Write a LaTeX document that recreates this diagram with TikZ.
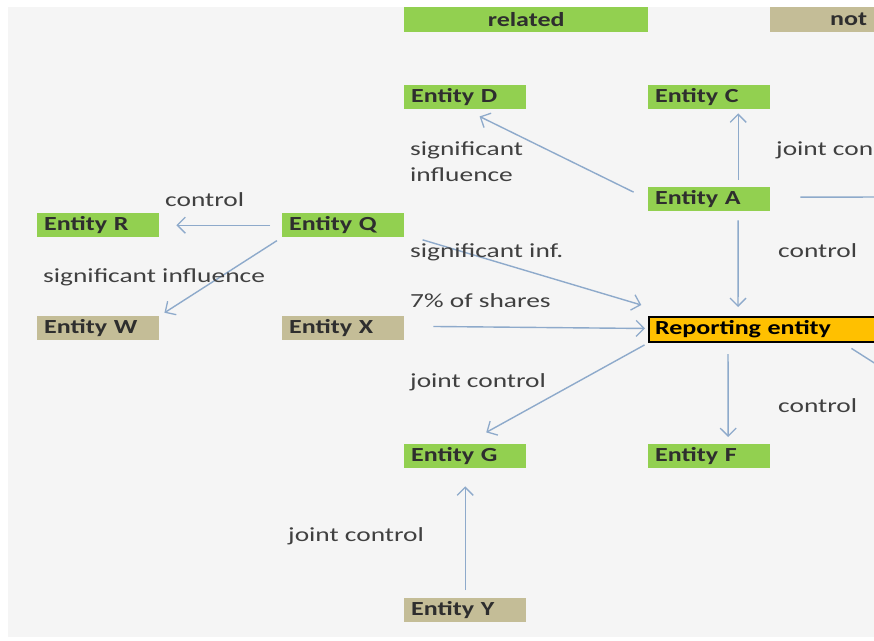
\documentclass[tikz,border=0pt]{standalone}
\usepackage{fontspec}
\setmainfont{Carlito}[FakeStretch=1.3]
\newfontfamily\labelfont{Carlito}[FakeStretch=1.37]
\usetikzlibrary{arrows.meta}

\definecolor{pagebg}{HTML}{F5F5F5}
\definecolor{relgreen}{HTML}{92D050}
\definecolor{unrelated}{HTML}{C4BD97}
\definecolor{repfill}{HTML}{FFC000}
\definecolor{linkcol}{HTML}{8EAACB}
\definecolor{labtext}{HTML}{404040}
\definecolor{boxtext}{HTML}{2E2E2E}

\tikzset{
  entbox/.style={anchor=north west, minimum height=24pt, text width=108pt,
    inner xsep=7pt, inner ysep=0pt, align=left, text=boxtext,
    font=\fontsize{20}{22}\selectfont\bfseries},
  green/.style={entbox, fill=relgreen},
  other/.style={entbox, fill=unrelated},
  lab/.style={anchor=base west, inner sep=0pt, text=labtext,
    font=\labelfont\fontsize{20}{22}\selectfont},
  link/.style={draw=linkcol, line width=1.4pt,
    -{Straight Barb[length=8pt,width=16pt,line width=1.3pt]}},
  plainlink/.style={draw=linkcol, line width=1.4pt}
}

\begin{document}
\begin{tikzpicture}[x=1pt, y=-1pt]
\useasboundingbox (0,0) rectangle (874,640);
\clip (0,0) rectangle (874,640);
\fill[white] (0,0) rectangle (874,640);
\fill[pagebg] (8,7) rectangle (874,637);

% legend strip
\node[green, anchor=north west, minimum width=244pt, text width={}, align=center,
  inner xsep=0pt, minimum height=25pt] (legrel) at (404,7) {related};
\node[other, anchor=north west, minimum width=244pt, text width=230pt,
  inner xsep=0pt, minimum height=25pt] (legnot) at (770,7) {\noindent\hspace*{53pt}not};

% entities
\node[green] (D) at (404,85) {Entity D};
\node[green] (C) at (648,85) {Entity C};
\node[green] (A) at (648,187) {Entity A};
\node[green] (R) at (37,213) {Entity R};
\node[green] (Q) at (282,213) {Entity Q};
\node[other] (W) at (37,316) {Entity W};
\node[other] (X) at (282,316) {Entity X};
\node[green] (G) at (404,444) {Entity G};
\node[green] (F) at (648,444) {Entity F};
\node[other] (Y) at (404,598) {Entity Y};
\node[anchor=north west, fill=repfill, draw=black, line width=2pt,
  minimum height=25pt, text width=240pt, inner xsep=6pt, inner ysep=0pt,
  align=left, text=black, font=\fontsize{20}{22}\selectfont\bfseries]
  (Rep) at (648,316) {Reporting entity};

% off-picture end points
\coordinate (offA) at (890,197);
\coordinate (offRep) at (890,373);

% connectors
\draw[link, shorten <=16pt, shorten >=16pt] (A.west) -- (D.south);
\draw[link, shorten <=7pt, shorten >=4pt] ([xshift=29pt]A.north) -- ([xshift=29pt]C.south);
\draw[plainlink, shorten <=30pt] ([yshift=2pt]A.east) -- (offA);
\draw[link, shorten <=9pt, shorten >=9pt] ([xshift=29pt]A.south) -- ([xshift=90pt]Rep.north west);
\draw[link, shorten <=12pt, shorten >=17pt] (Q.west) -- (R.east);
\draw[link, shorten <=6pt, shorten >=6pt] (Q.south west) -- (W.north east);
\draw[link, shorten <=19pt, shorten >=7pt] ([yshift=3pt]Q.south east) -- ([yshift=9pt]Rep.north west);
\draw[link, shorten <=29pt, shorten >=3pt] ([yshift=2pt]X.east) -- ([yshift=1pt]Rep.west);
\draw[link, shorten <=4pt, shorten >=24pt] (Rep.south west) -- (G.north);
\draw[link, shorten <=11pt, shorten >=7pt] ([xshift=80pt]Rep.south west) -- ([xshift=19pt]F.north);
\draw[plainlink, shorten <=10pt] ([xshift=195pt]Rep.south west) -- (offRep);
\draw[link, shorten <=8pt, shorten >=18pt] (Y.north) -- (G.south);

% relation labels
\node[lab] (lRQ) at (165,206) {control};
\node[lab] (lQW) at (43,282) {significant influence};
\node[lab, align=left, anchor=north west, font=\labelfont\fontsize{20}{26}\selectfont] (lAD) at (410,141) {significant\\influence};
\node[lab] (lAoff) at (776,155) {joint con};
\node[lab] (lARep) at (778,257) {control};
\node[lab] (lQRep) at (410,257) {significant inf.};
\node[lab] (lXRep) at (410,307) {7\% of shares};
\node[lab] (lRepG) at (410,387) {joint control};
\node[lab] (lRepF) at (778,412) {control};
\node[lab] (lYG) at (288,541) {joint control};
\end{tikzpicture}
\end{document}
